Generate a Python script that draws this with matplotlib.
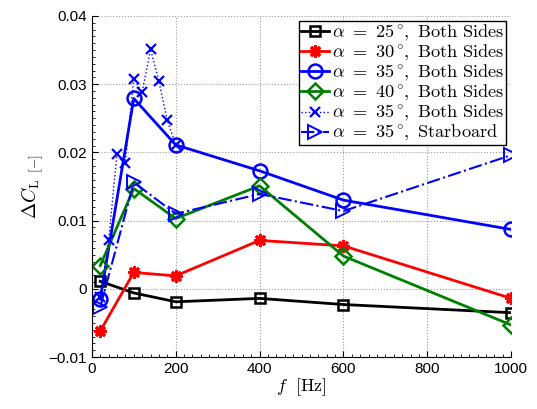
import matplotlib

matplotlib.use("Agg")
import matplotlib.pyplot as plt
from matplotlib.ticker import FuncFormatter, AutoMinorLocator

plt.rcParams["mathtext.fontset"] = "cm"
plt.rcParams["font.family"] = ["Liberation Sans", "DejaVu Sans"]

# data
F_MAIN = [20, 100, 200, 400, 600, 1000]
DCL_25 = [0.0011, -0.0006, -0.0019, -0.0014, -0.0023, -0.0035]
DCL_30 = [-0.0062, 0.0024, 0.0019, 0.0071, 0.0063, -0.0014]
DCL_35 = [-0.0015, 0.0279, 0.0211, 0.0173, 0.0130, 0.0087]
DCL_40 = [0.0034, 0.0147, 0.0103, 0.0151, 0.0048, -0.0053]

F_FINE = [20, 40, 60, 80, 100, 120, 140, 160, 180, 200]
DCL_35_FINE = [-0.0012, 0.0071, 0.0198, 0.0185, 0.0308, 0.0288, 0.0351,
               0.0304, 0.0247, 0.0211]

DCL_35_STB = [-0.0027, 0.0156, 0.0110, 0.0139, 0.0114, 0.0196]

LABELS = [
    r"$\alpha\ =\ 25^\circ\!\mathrm{,\ Both\ Sides}$",
    r"$\alpha\ =\ 30^\circ\!\mathrm{,\ Both\ Sides}$",
    r"$\alpha\ =\ 35^\circ\!\mathrm{,\ Both\ Sides}$",
    r"$\alpha\ =\ 40^\circ\!\mathrm{,\ Both\ Sides}$",
    r"$\alpha\ =\ 35^\circ\!\mathrm{,\ Both\ Sides}$",
    r"$\alpha\ =\ 35^\circ\!\mathrm{,\ Starboard}$",
]

fig = plt.figure(figsize=(5.37, 4.09), dpi=100)
ax = fig.add_axes([0.171, 0.127, 0.781, 0.834])

green = (0, 0.5, 0)
ax.plot(F_MAIN, DCL_25, "-", color="k", lw=2, marker="s", ms=7,
        mfc="none", mew=1.8, label=LABELS[0])
ax.plot(F_MAIN, DCL_30, "-", color="r", lw=2, marker=(8, 2, 0), ms=9,
        mew=2.2, label=LABELS[1])
ax.plot(F_MAIN, DCL_35, "-", color="b", lw=2, marker="o", ms=10,
        mfc="none", mew=1.8, label=LABELS[2])
ax.plot(F_MAIN, DCL_40, "-", color=green, lw=2, marker="D", ms=8,
        mfc="none", mew=1.8, label=LABELS[3])
ax.plot(F_FINE, DCL_35_FINE, ":", color="b", lw=1, marker="x", ms=7,
        mew=1.6, label=LABELS[4])
ax.plot(F_MAIN, DCL_35_STB, "-.", color="b", lw=1.5, marker=">", ms=10,
        mfc="none", mew=1.4, label=LABELS[5])

ax.set_xlim(0, 1000)
ax.set_ylim(-0.01, 0.04)
ax.set_xticks(range(0, 1001, 200))
ax.set_yticks([-0.01, 0, 0.01, 0.02, 0.03, 0.04])
ax.yaxis.set_major_formatter(
    FuncFormatter(lambda v, p: "0" if abs(v) < 1e-9 else f"{v:.2f}".replace("-", "\u2212")))
ax.xaxis.set_minor_locator(AutoMinorLocator(10))
ax.yaxis.set_minor_locator(AutoMinorLocator(10))
ax.tick_params(which="both", direction="in", labelsize=11)
ax.tick_params(which="major", length=4)
ax.tick_params(which="minor", length=2)
ax.grid(True, which="major", linestyle=":", color="#999999", lw=0.8)
for s in ("top", "right"):
    ax.spines[s].set_visible(False)

ax.set_xlabel(r"$f\ \ \mathrm{[Hz]}$", fontsize=13, labelpad=0)
ax.set_ylabel(r"$\Delta C_{\mathrm{L}}\ {}_{[-]}$", fontsize=14, labelpad=2)

leg = ax.legend(loc="upper right", fontsize=13.2, handlelength=1.55,
                handletextpad=0.15, labelspacing=0.0, borderpad=0.1,
                borderaxespad=0.3, fancybox=False, framealpha=1)
leg.get_frame().set_edgecolor("k")
leg.get_frame().set_linewidth(1.0)

fig.savefig("out.png", dpi=100)
